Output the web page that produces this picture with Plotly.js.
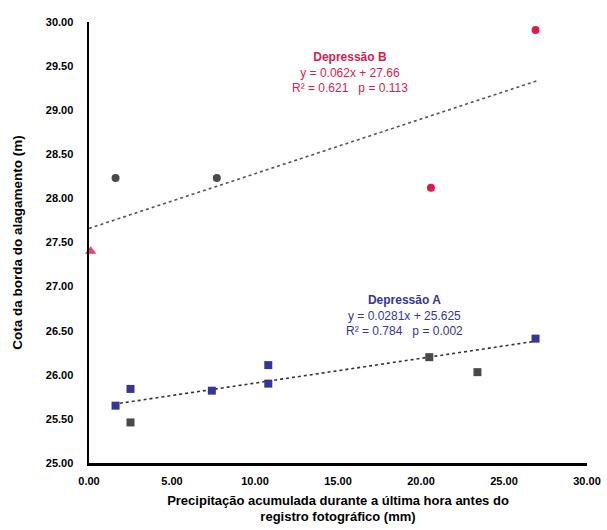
<!DOCTYPE html>
<html>
<head>
<meta charset="utf-8">
<script src="https://cdn.plot.ly/plotly-3.0.1.min.js"></script>
<style>html,body{margin:0;padding:0;background:#fff;}#chart{width:607px;height:530px;}</style>
</head>
<body>
<div id="chart"></div>
<script>
// Depressão B
const bRedX = [20.6, 26.9];
const bRedY = [28.12, 29.91];
const bGreyX = [1.6, 7.7];
const bGreyY = [28.23, 28.23];
const bTriX = [0.1];
const bTriY = [27.40];
const trendBX = [0, 27];
const trendBSlope = 0.062, trendBIntercept = 27.66;

// Depressão A
const aBlueX = [1.6, 2.5, 7.4, 10.8, 10.8, 26.9];
const aBlueY = [25.65, 25.84, 25.82, 26.11, 25.90, 26.41];
const aGreyX = [2.5, 20.5, 23.4];
const aGreyY = [25.46, 26.20, 26.03];
const trendAX = [1.5, 27];
const trendASlope = 0.0281, trendAIntercept = 25.625;

const xTicks = [0, 5, 10, 15, 20, 25, 30];
const yTicks = [25, 25.5, 26, 26.5, 27, 27.5, 28, 28.5, 29, 29.5, 30];

const labelB = ["<b>Depressão B</b>", "y = 0.062x + 27.66", "R² = 0.621   p = 0.113"];
const labelA = ["<b>Depressão A</b>", "y = 0.0281x + 25.625", "R² = 0.784   p = 0.002"];

const red = '#d81b50', blue = '#35359a', grey = '#4a4a4a';

const traces = [
  {x: trendBX, y: trendBX.map(v => trendBSlope*v + trendBIntercept), mode:'lines',
   line:{color:'#555', width:1.6, dash:'dot'}},
  {x: trendAX, y: trendAX.map(v => trendASlope*v + trendAIntercept), mode:'lines',
   line:{color:'#333', width:1.6, dash:'dot'}},
  {x: bRedX, y: bRedY, mode:'markers', marker:{symbol:'circle', size:8, color:red}},
  {x: bGreyX, y: bGreyY, mode:'markers', marker:{symbol:'circle', size:8, color:grey}},
  {x: bTriX, y: bTriY, mode:'markers', marker:{symbol:'triangle-up', size:10, color:'#e8407a'}, cliponaxis:false},
  {x: aBlueX, y: aBlueY, mode:'markers', marker:{symbol:'square', size:8, color:blue}},
  {x: aGreyX, y: aGreyY, mode:'markers', marker:{symbol:'square', size:8, color:grey}}
];

const font = {family:'Liberation Sans, Arial, sans-serif', color:'#000'};

const layout = {
  width:607, height:530,
  margin:{l:89, r:20, t:22, b:67},
  showlegend:false,
  paper_bgcolor:'#fff', plot_bgcolor:'#fff',
  xaxis:{range:[0,30], tickvals:xTicks, ticktext:xTicks.map(v=>v.toFixed(2)),
    showgrid:false, zeroline:false, showline:true, linecolor:'#000', linewidth:2.5,
    ticks:'', ticklabelstandoff:6, tickfont:{family:font.family, size:11, color:'#000', weight:'bold'},
    title:{text:'Precipitação acumulada durante a última hora antes do<br>registro fotográfico (mm)',
      font:{family:font.family, size:13, color:'#000', weight:'bold'}, standoff:10}},
  yaxis:{range:[25,30], tickvals:yTicks, ticktext:yTicks.map(v=>v.toFixed(2)),
    showgrid:false, zeroline:false, showline:true, linecolor:'#000', linewidth:2.5,
    ticks:'', ticklabelstandoff:11, tickfont:{family:font.family, size:11, color:'#000', weight:'bold'},
    title:{text:'Cota da borda do alagamento (m)',
      font:{family:font.family, size:13.5, color:'#000', weight:'bold'}, standoff:20}},
  annotations:[
    {x:0.525, y:0.94, xref:'paper', yref:'paper', showarrow:false, align:'center',
     text:labelB.join('<br>'), font:{family:font.family, size:12, color:red}},
    {x:0.633, y:0.335, xref:'paper', yref:'paper', showarrow:false, align:'center',
     text:labelA.join('<br>'), font:{family:font.family, size:12, color:blue}}
  ]
};

Plotly.newPlot('chart', traces, layout, {displayModeBar:false, staticPlot:true});
</script>
</body>
</html>
